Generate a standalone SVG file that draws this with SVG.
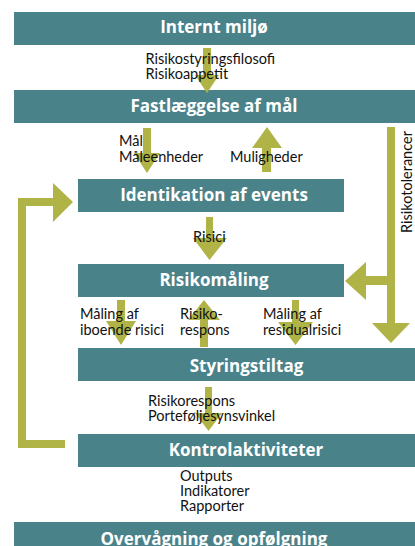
<svg xmlns="http://www.w3.org/2000/svg" width="415" height="546" viewBox="0 0 415 546">
  <style>
    .box { fill: #4a828a; }
    .title { font-family: "Open Sans", "DejaVu Sans", sans-serif; font-weight: bold; font-size: 17px; fill: #ffffff; text-anchor: middle; }
    .arrow { fill: #b0b447; }
    .lbl { font-family: Lato, "Liberation Sans", sans-serif; font-size: 14.5px; fill: #111111; }
  </style>
  <rect width="415" height="546" fill="#ffffff"/>

  <!-- process stages -->
  <g id="internt-miljo">
    <rect class="box" x="14" y="12" width="401" height="33"/>
    <text class="title" x="214" y="32.5">Internt miljø</text>
  </g>
  <g id="fastlaeggelse">
    <rect class="box" x="14" y="90" width="401" height="33"/>
    <text class="title" x="214" y="112">Fastlæggelse af mål</text>
  </g>
  <g id="identikation">
    <rect class="box" x="78" y="179" width="266" height="33"/>
    <text class="title" x="214" y="200.5">Identikation af events</text>
  </g>
  <g id="risikomaaling">
    <rect class="box" x="78" y="264" width="266" height="33"/>
    <text class="title" x="214" y="285.5">Risikomåling</text>
  </g>
  <g id="styringstiltag">
    <rect class="box" x="78" y="348" width="337" height="33"/>
    <text class="title" x="246.5" y="371.5">Styringstiltag</text>
  </g>
  <g id="kontrolaktiviteter">
    <rect class="box" x="78" y="434" width="337" height="33"/>
    <text class="title" x="246" y="456">Kontrolaktiviteter</text>
  </g>
  <g id="overvaagning">
    <rect class="box" x="14" y="522" width="401" height="30"/>
    <text class="title" x="214" y="545">Overvågning og opfølgning</text>
  </g>

  <!-- flow arrows -->
  <g id="connectors">
    <polygon class="arrow" points="203,48 211,48 211,75 219,75 207,93 195,75 203,75"/>
    <polygon class="arrow" points="143,128 151,128 151,153 160,153 147,173 134,153 143,153"/>
    <polygon class="arrow" points="262,172 271,172 271,148 282,148 267,127 252,148 262,148"/>
    <polygon class="arrow" points="18,448 65,448 65,440 26,440 26,206 53,206 53,222 73,202 53,183 53,198 18,198"/>
    <polygon class="arrow" points="206,217 213,217 213,238 227,238 209.5,260 193,238 206,238"/>
    <polygon class="arrow" points="387,127 395,127 395,323 410,323 391,343 372,323 387,323 387,285 366,285 366,300 345,281 366,262 366,276 387,276"/>
    <polygon class="arrow" points="117,300 125,300 125,321 136,321 121,345 106,321 117,321"/>
    <polygon class="arrow" points="200,347 208,347 208,320 220,320 204,300 188,320 200,320"/>
    <polygon class="arrow" points="292,300 299,300 299,322 313,322 295.5,345 278,322 292,322"/>
    <polygon class="arrow" points="205,387 212,387 212,413 222,413 208.5,431 195,413 205,413"/>
  </g>

  <!-- flow labels -->
  <g id="labels">
    <text class="lbl" x="145.5" y="64">Risikostyringsfilosofi</text>
    <text class="lbl" x="145.5" y="79">Risikoappetit</text>
    <text class="lbl" x="119" y="146">Mål</text>
    <text class="lbl" x="119" y="161.5">Måleenheder</text>
    <text class="lbl" x="230" y="161.5">Muligheder</text>
    <text class="lbl" x="193" y="242">Risici</text>
    <text class="lbl" x="80" y="319">Måling af</text>
    <text class="lbl" x="80" y="335">iboende risici</text>
    <text class="lbl" x="180" y="319">Risiko-</text>
    <text class="lbl" x="180" y="335">respons</text>
    <text class="lbl" x="263" y="319">Måling af</text>
    <text class="lbl" x="263" y="335">residualrisici</text>
    <text class="lbl" x="148" y="405.5">Risikorespons</text>
    <text class="lbl" x="148" y="420.5">Porteføljesynsvinkel</text>
    <text class="lbl" x="180" y="480.5">Outputs</text>
    <text class="lbl" x="180" y="496">Indikatorer</text>
    <text class="lbl" x="180" y="511">Rapporter</text>
    <text class="lbl" transform="translate(412,233) rotate(-90)">Risikotolerancer</text>
  </g>
</svg>
